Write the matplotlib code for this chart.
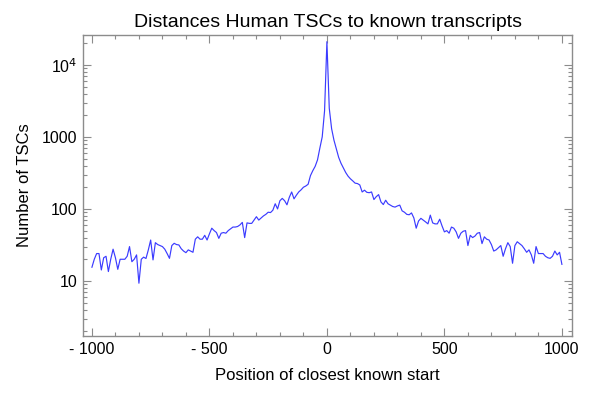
import numpy as np
import matplotlib
matplotlib.use("Agg")
import matplotlib.pyplot as plt
from matplotlib.ticker import FixedLocator, FixedFormatter, LogLocator, NullFormatter, MultipleLocator

plt.rcParams['font.family'] = ['Liberation Sans', 'DejaVu Sans']

positions = np.arange(-1000, 1001, 10)

left_counts = [
    15.5, 20, 24, 24, 14.2, 21, 22, 13.5, 20, 27.6,
    21, 14.5, 20, 20, 20, 22, 30, 18.5, 20, 23,
    9.3, 20, 21.4, 20.5, 27, 37, 19.6, 34, 32, 31,
    30, 27.6, 24, 20.6, 31, 33.3, 32, 31.6, 28, 26,
    24.7, 27, 26, 25, 38, 41, 38, 38, 43, 37,
    45, 54, 50, 47, 39, 46, 47, 46, 50, 53,
    56, 56, 57, 60, 65, 40, 64, 63, 63, 70,
    78, 70, 75, 80, 84, 90, 89, 96, 118, 100,
    130, 140, 130, 114, 145, 172, 138, 155, 172, 184,
    200, 208, 220, 290, 340, 390, 480, 700, 1000, 2300,
]
peak_count = [21000]
right_counts = [
    2500, 1300, 900, 680, 520, 430, 370, 320, 285, 262,
    245, 228, 225, 215, 172, 182, 170, 168, 172, 135,
    148, 158, 125, 115, 132, 118, 113, 108, 106, 110,
    113, 94, 90, 84, 83, 88, 75, 54, 68, 74,
    70, 66, 62, 82, 64, 62, 62, 72, 58, 48,
    50, 46, 56, 54, 48, 39, 46, 49, 50, 31,
    43, 40, 42, 46, 47, 33, 41, 38, 37, 32,
    26, 27, 29, 31, 22, 28, 34, 30, 17.6, 31,
    35, 33, 31, 28, 25, 27, 23, 17.6, 30, 24,
    24, 24, 22, 21, 20.6, 22, 26, 23, 25, 17,
]
counts = left_counts + peak_count + right_counts

x_ticks = [-1000, -500, 0, 500, 1000]
x_tick_labels = ["- 1000", "- 500", "0", "500", "1000"]
y_ticks = [10, 100, 1000, 10000]
y_tick_labels = ["10", "100", "1000", r"10$^4$"]

fig = plt.figure(figsize=(6, 4), dpi=100)
ax = fig.add_axes([83/600, 1-336/400, (572-83)/600, (336-35)/400])
ax.plot(positions, counts, color='#3b3bff', lw=0.85)
ax.set_yscale('log')
ax.set_xlim(-1038, 1043)
ax.set_ylim(1.72, 26000)

ax.xaxis.set_major_locator(FixedLocator(x_ticks))
ax.xaxis.set_major_formatter(FixedFormatter(x_tick_labels))
ax.xaxis.set_minor_locator(MultipleLocator(100))
ax.yaxis.set_major_locator(FixedLocator(y_ticks))
ax.yaxis.set_major_formatter(FixedFormatter(y_tick_labels))
ax.yaxis.set_minor_locator(LogLocator(base=10, subs=np.arange(2, 10)))
ax.yaxis.set_minor_formatter(NullFormatter())

grey = '#8c8c8c'
for s in ax.spines.values():
    s.set_color(grey)
    s.set_linewidth(1.0)
ax.tick_params(which='both', direction='in', top=True, right=True, color=grey, labelsize=11.5, labelcolor='black')
ax.tick_params(which='major', length=6, width=0.8, pad=4)
ax.tick_params(which='minor', length=3, width=0.8)

ax.set_title("Distances Human TSCs to known transcripts", fontsize=14, pad=6)
ax.set_xlabel("Position of closest known start", fontsize=12, labelpad=8)
ax.set_ylabel("Number of TSCs", fontsize=12, labelpad=7)

fig.savefig("out.png", dpi=100)
